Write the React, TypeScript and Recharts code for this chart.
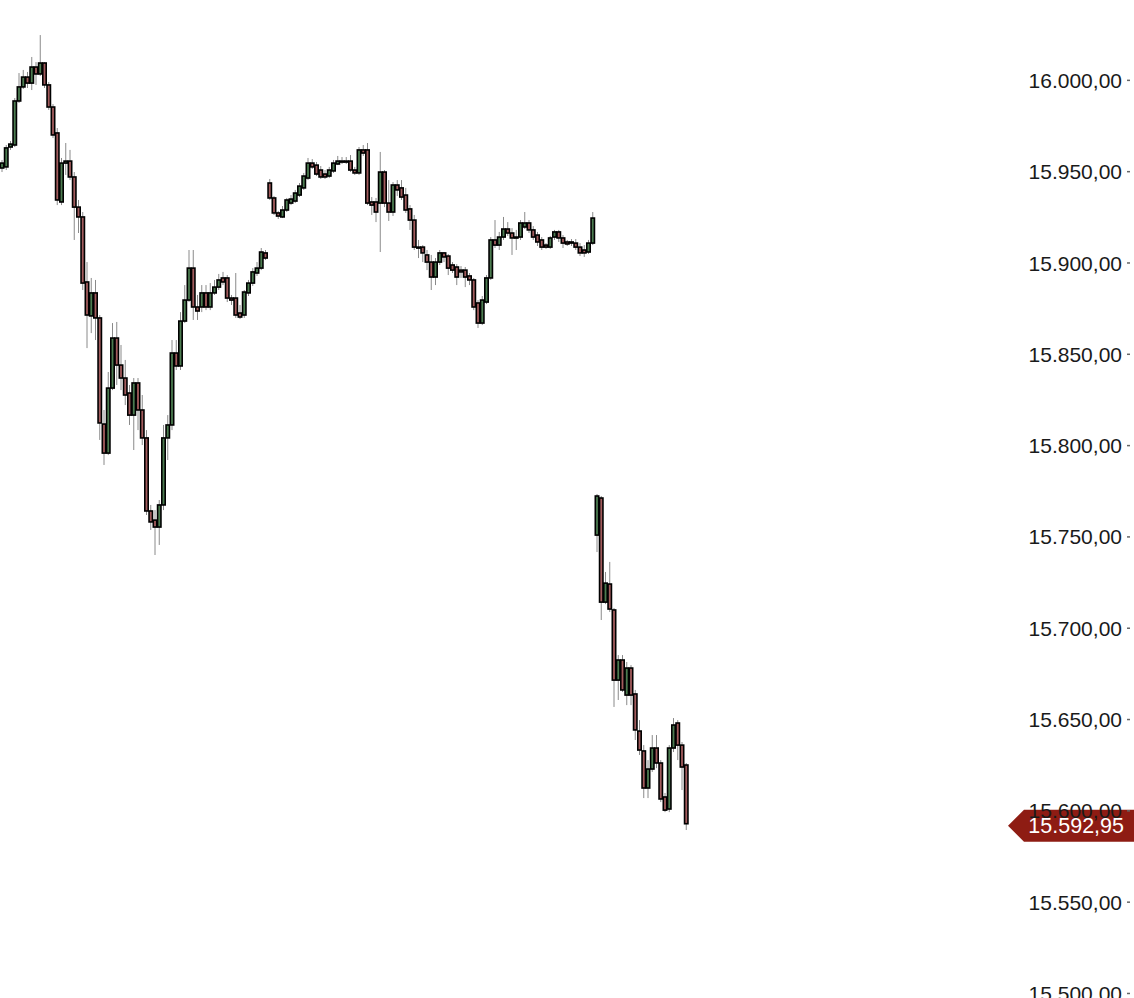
import React from 'react';
import { ComposedChart, Bar, XAxis, YAxis, ReferenceLine } from 'recharts';

// each candle: [open, high, low, close]
const SESSION_1: number[][] = [
    [15952.0, 15956.4, 15949.8, 15954.7], [15952.6, 15964.6, 15950.9, 15963.0], [15963.5, 15966.8, 15961.9, 15965.1],
    [15964.6, 15990.3, 15963.5, 15988.7], [15988.7, 16004.0, 15987.6, 15996.4], [15996.4, 16005.7, 15995.3, 16001.8],
    [16001.8, 16004.6, 15995.8, 15998.5], [15998.5, 16012.8, 15994.7, 16007.3], [16007.3, 16010.0, 15997.5, 16003.5],
    [16003.5, 16024.8, 16002.4, 16009.5], [16009.5, 16010.0, 15995.8, 15997.5], [15997.5, 15999.1, 15983.8, 15985.4],
    [15985.4, 15987.0, 15968.4, 15970.1], [15971.2, 15973.9, 15931.7, 15934.5], [15933.4, 15957.5, 15931.7, 15954.7],
    [15954.7, 15965.7, 15948.2, 15955.8], [15955.8, 15961.9, 15945.4, 15947.1], [15947.1, 15949.8, 15912.6, 15930.6],
    [15930.6, 15934.5, 15916.4, 15925.2], [15925.2, 15927.9, 15885.2, 15889.0], [15889.6, 15900.5, 15853.4, 15871.5],
    [15871.0, 15891.8, 15861.6, 15883.6], [15883.6, 15890.7, 15857.8, 15869.9], [15869.9, 15871.5, 15803.1, 15812.4],
    [15811.8, 15819.5, 15789.4, 15795.9], [15795.9, 15840.3, 15794.8, 15831.5], [15831.5, 15867.1, 15830.4, 15858.9],
    [15858.9, 15867.7, 15833.2, 15844.1], [15844.1, 15855.1, 15830.4, 15837.0], [15837.0, 15846.9, 15822.2, 15827.7],
    [15828.8, 15833.2, 15811.3, 15816.7], [15816.7, 15837.0, 15797.6, 15834.3], [15834.3, 15837.0, 15808.5, 15819.5],
    [15819.5, 15827.7, 15800.3, 15804.2], [15804.2, 15808.5, 15762.0, 15764.2], [15764.2, 15767.5, 15753.8, 15758.2],
    [15759.2, 15764.7, 15740.1, 15755.4], [15755.4, 15770.2, 15745.6, 15767.5], [15767.5, 15811.3, 15764.7, 15804.2],
    [15804.2, 15816.7, 15792.1, 15811.3], [15811.3, 15857.8, 15808.5, 15850.7], [15850.7, 15857.8, 15841.4, 15843.6],
    [15843.6, 15873.1, 15841.4, 15868.2], [15868.2, 15887.9, 15867.1, 15879.7], [15879.7, 15907.1, 15878.6, 15897.2],
    [15897.2, 15907.1, 15868.8, 15875.9], [15875.9, 15882.5, 15868.8, 15873.7], [15875.9, 15887.9, 15873.1, 15883.6],
    [15883.6, 15887.9, 15874.2, 15875.9], [15875.9, 15889.0, 15874.2, 15883.6], [15883.6, 15890.7, 15882.5, 15886.8],
    [15886.8, 15894.0, 15885.2, 15890.7], [15891.8, 15895.1, 15887.9, 15889.6], [15891.8, 15893.4, 15878.6, 15880.8],
    [15880.8, 15882.5, 15877.0, 15879.7], [15880.8, 15894.5, 15869.9, 15871.5], [15872.6, 15877.0, 15869.3, 15870.4],
    [15871.5, 15885.2, 15869.9, 15884.1], [15883.6, 15890.7, 15881.9, 15889.0], [15889.0, 15897.2, 15887.4, 15895.1],
    [15894.5, 15900.5, 15892.9, 15897.2], [15897.2, 15908.2, 15896.1, 15906.0], [15905.5, 15907.1, 15901.6, 15902.7],
];

const SESSION_2: number[][] = [
    [15943.8, 15946.0, 15934.5, 15935.6], [15935.6, 15936.7, 15926.3, 15927.4], [15927.4, 15928.5, 15924.1, 15925.7],
    [15925.2, 15931.2, 15924.6, 15929.0], [15929.0, 15935.6, 15927.9, 15934.5], [15932.8, 15937.2, 15931.7, 15935.0],
    [15933.9, 15940.0, 15932.8, 15938.3], [15937.2, 15943.8, 15936.1, 15942.1], [15941.1, 15949.3, 15940.0, 15947.6],
    [15946.5, 15957.5, 15945.4, 15954.7], [15954.7, 15956.9, 15951.5, 15952.6], [15953.6, 15955.3, 15947.6, 15948.7],
    [15950.9, 15953.1, 15946.0, 15947.1], [15948.7, 15950.9, 15946.0, 15947.1], [15947.6, 15952.6, 15946.5, 15950.9],
    [15950.4, 15956.4, 15949.3, 15954.7], [15954.2, 15958.6, 15953.6, 15955.8], [15955.8, 15958.0, 15954.2, 15955.3],
    [15955.3, 15958.0, 15954.2, 15955.8], [15955.8, 15959.1, 15949.8, 15950.9], [15950.9, 15952.6, 15948.2, 15949.3],
    [15949.3, 15963.5, 15948.2, 15961.9], [15961.9, 15964.6, 15958.6, 15960.2], [15961.9, 15965.7, 15931.7, 15932.8],
    [15933.4, 15936.1, 15926.3, 15931.7], [15933.4, 15935.6, 15922.4, 15927.9], [15932.8, 15960.8, 15906.0, 15949.8],
    [15949.8, 15950.9, 15930.6, 15932.8], [15932.8, 15945.4, 15923.0, 15927.9], [15927.9, 15944.3, 15925.7, 15942.7],
    [15942.7, 15945.4, 15936.7, 15940.0], [15941.1, 15945.4, 15934.5, 15936.1], [15937.2, 15941.1, 15927.4, 15929.0],
    [15929.6, 15931.7, 15918.1, 15923.5], [15923.5, 15926.3, 15907.1, 15908.7], [15908.7, 15912.6, 15902.7, 15908.2],
    [15908.7, 15909.8, 15900.5, 15905.5], [15904.4, 15907.1, 15896.1, 15900.5], [15900.5, 15904.4, 15885.2, 15892.3],
    [15892.3, 15902.7, 15887.9, 15900.5], [15900.5, 15907.1, 15898.9, 15905.5], [15905.5, 15906.0, 15900.5, 15903.3],
    [15903.8, 15904.9, 15893.4, 15897.2], [15898.9, 15900.5, 15894.5, 15896.1], [15897.8, 15899.4, 15887.9, 15892.3],
    [15896.1, 15898.3, 15891.8, 15895.1], [15896.1, 15897.8, 15886.8, 15892.3], [15892.9, 15894.5, 15887.9, 15890.7],
    [15890.7, 15891.8, 15874.2, 15875.9], [15878.1, 15879.7, 15864.4, 15867.1], [15867.1, 15881.9, 15866.0, 15879.7],
    [15878.6, 15893.4, 15877.5, 15891.8], [15891.8, 15914.2, 15890.7, 15912.6], [15912.6, 15923.5, 15908.2, 15909.8],
    [15909.8, 15917.0, 15907.1, 15914.2], [15914.2, 15925.2, 15912.6, 15918.6], [15918.6, 15922.4, 15914.8, 15916.4],
    [15916.4, 15919.1, 15904.4, 15913.7], [15914.2, 15918.1, 15907.1, 15913.7], [15914.2, 15923.5, 15912.6, 15921.9],
    [15919.7, 15927.9, 15918.6, 15921.9], [15921.9, 15923.5, 15916.4, 15918.1], [15918.1, 15920.2, 15912.6, 15914.2],
    [15915.3, 15917.0, 15909.3, 15911.5], [15912.6, 15914.2, 15907.1, 15908.7], [15909.8, 15910.9, 15907.7, 15908.7],
    [15908.7, 15914.8, 15907.7, 15913.7], [15914.2, 15918.1, 15912.6, 15917.0], [15917.0, 15918.1, 15911.5, 15913.7],
    [15913.7, 15915.3, 15908.2, 15910.9], [15911.5, 15912.6, 15909.3, 15910.4], [15911.5, 15913.1, 15909.3, 15910.9],
    [15910.9, 15913.1, 15907.1, 15908.7], [15908.7, 15910.9, 15903.8, 15905.5], [15907.1, 15909.8, 15903.3, 15905.5],
    [15906.0, 15912.6, 15904.9, 15910.9], [15910.9, 15927.9, 15909.8, 15924.6],
];

const SESSION_3: number[][] = [
    [15751.0, 15773.5, 15741.7, 15772.4], [15771.3, 15772.4, 15704.5, 15714.3], [15714.3, 15730.8, 15713.2, 15724.7],
    [15724.2, 15736.3, 15708.9, 15710.5], [15710.0, 15711.1, 15656.9, 15671.6], [15671.6, 15685.3, 15660.7, 15682.6],
    [15682.6, 15685.3, 15665.1, 15666.2], [15663.4, 15681.5, 15657.9, 15678.2], [15678.2, 15679.8, 15657.9, 15663.4],
    [15664.0, 15666.2, 15638.8, 15644.3], [15643.7, 15649.7, 15630.6, 15633.3], [15632.8, 15636.0, 15607.0, 15612.5],
    [15612.5, 15627.8, 15607.0, 15622.9], [15622.9, 15641.5, 15621.3, 15634.4], [15634.4, 15641.5, 15623.4, 15626.2],
    [15626.2, 15627.8, 15604.8, 15606.5], [15607.6, 15609.8, 15599.3, 15600.4], [15601.0, 15636.0, 15599.3, 15634.4],
    [15634.4, 15650.8, 15632.2, 15647.0], [15648.1, 15649.7, 15627.8, 15636.0], [15636.0, 15637.7, 15611.4, 15624.0],
    [15625.1, 15626.2, 15589.5, 15592.95],
];

const PRICE_TICKS = [15500, 15550, 15600, 15650, 15700, 15750, 15800, 15850, 15900, 15950, 16000];
const LAST_PRICE = 15592.95;
const TOTAL_SLOTS = 240;

const UP = '#4c7c50';
const DOWN = '#a25b5c';
const FONT = "'Liberation Sans', Arial, Helvetica, sans-serif";

const candles = [...SESSION_1, ...SESSION_2, ...SESSION_3];
const data = Array.from({ length: TOTAL_SLOTS }, (_, i) => {
    const c = candles[i];
    if (!c) return { idx: i, range: null };
    const [open, high, low, close] = c;
    return { idx: i, open, high, low, close, range: [low, high] };
});

const fmt = (v: number) => {
    const [int, dec] = v.toFixed(2).split('.');
    return int.replace(/\B(?=(\d{3})+(?!\d))/g, '.') + ',' + dec;
};

const Candle = (props: any) => {
    const { x, y, width, height, payload } = props;
    if (!payload || payload.open == null || height == null) return <g />;
    const { open, close, high, low } = payload;
    const top = Math.min(y, y + height);
    const h = Math.abs(height);
    const cx = x + width / 2;
    const span = high - low || 1;
    const toY = (v: number) => top + ((high - v) / span) * h;
    const bodyTop = toY(Math.max(open, close));
    const bodyBottom = toY(Math.min(open, close));
    const bw = 3.4;
    return (
        <g>
            <line x1={cx} x2={cx} y1={top} y2={top + h} stroke="#8a8a8a" strokeWidth={1} />
            <rect
                x={cx - bw / 2}
                y={bodyTop}
                width={bw}
                height={Math.max(bodyBottom - bodyTop, 1)}
                fill={close >= open ? UP : DOWN}
                stroke="#000"
                strokeWidth={1.6}
            />
        </g>
    );
};

const PriceTick = ({ x, y, payload }: any) => (
    <g>
        <text x={x + 102} y={y} dy="0.36em" textAnchor="end" fontSize={21} fill="#1a1a1a" fontFamily={FONT}>
            {fmt(payload.value)}
        </text>
        <line x1={x + 107} x2={x + 110} y1={y} y2={y} stroke="#666" strokeWidth={1.5} />
    </g>
);

const PriceTag = ({ viewBox }: any) => {
    const right = viewBox.x + viewBox.width;
    const cy = viewBox.y + 2;
    const half = 16;
    const tip = right - 12;
    const left = right + 4;
    const points = `${tip},${cy} ${left},${cy - half} ${right + 120},${cy - half} ${right + 120},${cy + half} ${left},${cy + half}`;
    return (
        <g>
            <polygon points={points} fill="#8e1c13" />
            <text x={right + 104} y={cy} dy="0.36em" textAnchor="end" fontSize={21.5} fill="#fff" fontFamily={FONT}>
                {fmt(LAST_PRICE)}
            </text>
        </g>
    );
};

export default function App() {
    return (
        <div style={{ position: 'absolute', left: 0, top: 0, width: 1134, height: 998, overflow: 'hidden', background: '#fff' }}>
            <ComposedChart
                width={1134}
                height={1030}
                data={data}
                margin={{ top: 0, right: 0, bottom: 0, left: 0 }}
                barCategoryGap={0}
            >
                <XAxis dataKey="idx" hide />
                <YAxis
                    orientation="right"
                    width={114}
                    domain={[15480, 16044]}
                    ticks={PRICE_TICKS}
                    allowDataOverflow
                    axisLine={false}
                    tickLine={false}
                    tickSize={0}
                    tickMargin={0}
                    tick={<PriceTick />}
                />
                <Bar dataKey="range" shape={<Candle />} isAnimationActive={false} />
                <ReferenceLine y={LAST_PRICE} stroke="none" ifOverflow="visible" label={<PriceTag />} />
            </ComposedChart>
        </div>
    );
}
